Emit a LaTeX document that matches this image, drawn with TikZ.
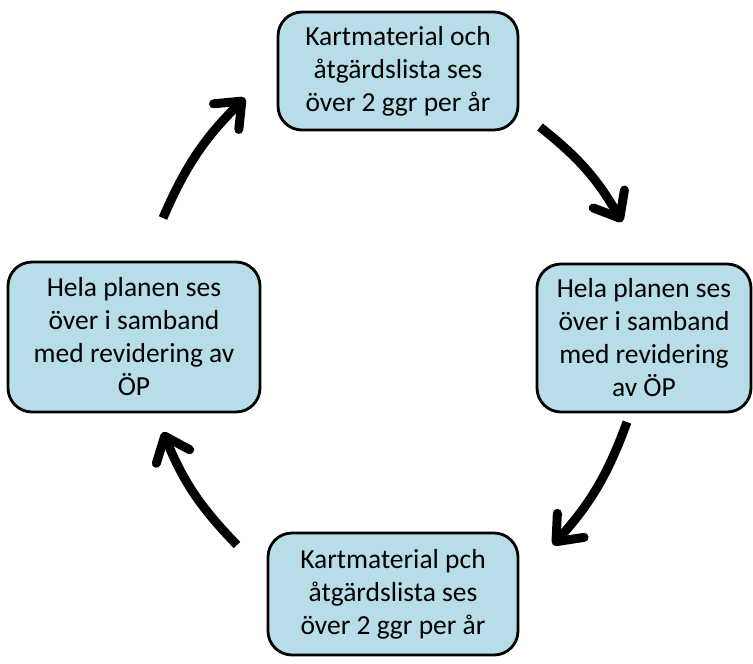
\documentclass[tikz,border=0pt]{standalone}
\usepackage{fontspec}
\setmainfont{Carlito}
\usetikzlibrary{arrows.meta}
\definecolor{boxblue}{RGB}{183,221,232}
\begin{document}
\begin{tikzpicture}[x=1pt,y=-1pt,
  planbox/.style={draw,line width=2.8pt,fill=boxblue,rounded corners=24pt,align=center,
    font=\fontsize{27.5}{33}\selectfont,inner sep=0pt},
  cyclearrow/.style={line width=9pt,-{Straight Barb[length=22pt,width=36pt,round]},bend left=11}]
\useasboundingbox (0,0) rectangle (753,664);
\node[planbox,minimum width=240pt,minimum height=118pt] (top) at (398,71)
  {Kartmaterial och\\åtgärdslista ses\\över 2 ggr per år};
\node[planbox,minimum width=214pt,minimum height=148pt] (right) at (644,338)
  {Hela planen ses\\över i samband\\med revidering\\av ÖP};
\node[planbox,minimum width=250pt,minimum height=122pt] (bottom) at (393,594)
  {Kartmaterial pch\\åtgärdslista ses\\över 2 ggr per år};
\node[planbox,minimum width=252pt,minimum height=150pt] (left) at (134,337)
  {Hela planen ses\\över i samband\\med revidering av\\ÖP};
% arrows between the boxes
\coordinate (tl1) at (163,218);
\coordinate (tl2) at (245,98);
\coordinate (tr1) at (540,127);
\coordinate (tr2) at (622,222);
\coordinate (br1) at (627,422);
\coordinate (br2) at (553,545);
\coordinate (bl1) at (237,545);
\coordinate (bl2) at (163,432);
\draw[cyclearrow] (tl1) to (tl2);
\draw[cyclearrow] (tr1) to (tr2);
\draw[cyclearrow] (br1) to (br2);
\draw[cyclearrow] (bl1) to (bl2);
\end{tikzpicture}
\end{document}
